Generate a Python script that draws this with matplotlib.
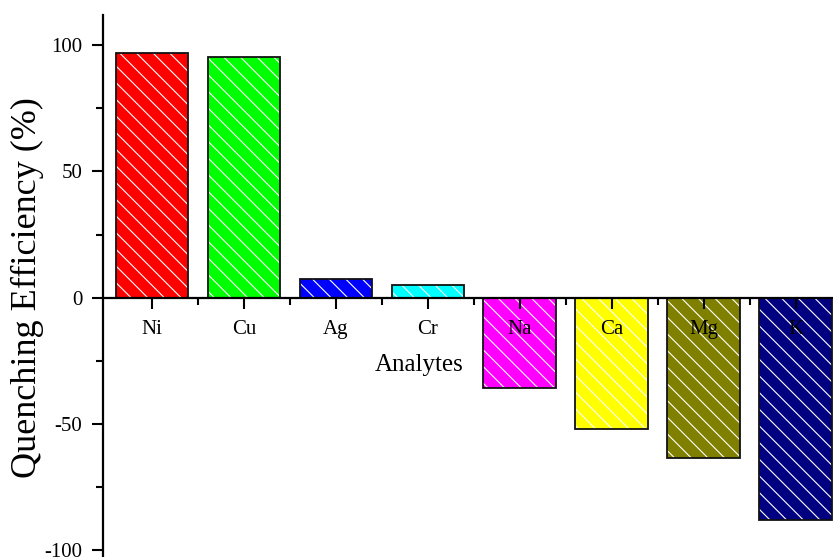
import matplotlib
matplotlib.use("Agg")
import matplotlib.pyplot as plt
import numpy as np
from matplotlib.ticker import MultipleLocator, FixedLocator

analytes = ["Ni", "Cu", "Ag", "Cr", "Na", "Ca", "Mg", "K"]
efficiency = [97.0, 95.2, 7.4, 5.1, -35.6, -52.0, -63.5, -88.0]
bar_colors = ["#FF0000", "#00FF00", "#0000FF", "#00FFFF",
              "#FF00FF", "#FFFF00", "#808000", "#000080"]
y_ticks = [-100, -50, 0, 50, 100]

plt.rcParams.update({
    "font.family": ["Liberation Serif", "DejaVu Serif"],
    "axes.unicode_minus": False,
    "hatch.linewidth": 0.8,
})

fig = plt.figure(figsize=(8.33, 5.57), dpi=100)
ax = fig.add_axes([103 / 833, 0.0, 734 / 833, 542 / 557])

x = np.arange(len(analytes))
# fill + white hatch, then black outline on top
ax.bar(x, efficiency, width=0.79, color=bar_colors, edgecolor="white",
       hatch="\\\\", linewidth=0, zorder=1)
ax.bar(x, efficiency, width=0.79, fill=False, edgecolor="#111111",
       linewidth=1.3, zorder=1.5)

ax.set_xlim(-0.533, 7.45)
ax.set_ylim(-102.65, 111.9)

ax.spines["top"].set_visible(False)
ax.spines["right"].set_visible(False)
ax.spines["bottom"].set_position(("data", 0))
ax.spines["left"].set_linewidth(1.6)
ax.spines["bottom"].set_linewidth(1.6)

ax.set_xticks(x)
ax.set_xticklabels(analytes)
ax.xaxis.set_minor_locator(FixedLocator(x[:-1] + 0.5))
ax.set_yticks(y_ticks)
ax.yaxis.set_minor_locator(MultipleLocator(25))

ax.tick_params(axis="both", which="major", direction="out", length=8,
               width=1.5, labelsize=15)
ax.tick_params(axis="both", which="minor", direction="out", length=5,
               width=1.5)
ax.tick_params(axis="x", which="major", pad=8)
ax.tick_params(axis="y", which="major", pad=7)

ax.set_xlabel("Analytes", fontsize=18, va="center")
ax.xaxis.set_label_coords(0.4305, 0.355)
ax.set_ylabel("Quenching Efficiency (%)", fontsize=26, va="center")
ax.yaxis.set_label_coords(-0.103, 0.498)

fig.savefig("out.png", dpi=100, facecolor="white")
